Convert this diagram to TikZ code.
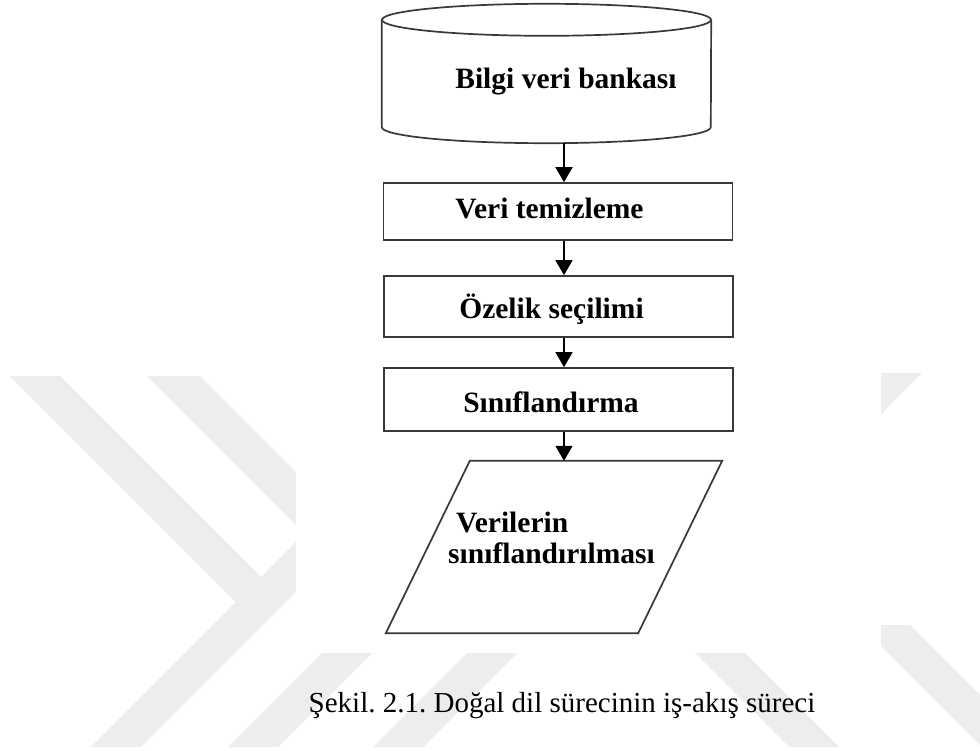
\documentclass[tikz,border=0pt]{standalone}
\usepackage{fontspec}
\setmainfont{Liberation Serif}
\usetikzlibrary{arrows.meta,calc}
\frenchspacing
\begin{document}
\begin{tikzpicture}[x=1pt,y=-1pt,
  line/.style={draw=black!78, line width=1.7pt},
  wm/.style={fill=black!7},
  boxshape/.style={line, rectangle, minimum width=349pt, inner sep=0pt},
  lbl/.style={font=\fontsize{29.5}{31}\selectfont\bfseries, inner sep=0pt},
  arr/.style={draw=black, line width=1.7pt, -{Triangle[width=17pt,length=15pt]}},
]
\useasboundingbox (0,0) rectangle (980,751);
\fill[white] (0,0) rectangle (980,751);
% watermark (background)
\begin{scope}
\clip (0,0) rectangle (980,747);
\fill[wm] (10,376) -- (60,376) -- (261,577) -- (236,602) -- cycle;
\fill[wm] (91,747) -- (141,747) -- (438,450) -- (388,450) -- cycle;
\fill[wm] (147,376) -- (200,376) -- (350,526) -- (297,526) -- cycle;
\fill[wm] (228,747) -- (278,747) -- (478,547) -- (428,547) -- cycle;
\fill[wm] (373,747) -- (423,747) -- (623,547) -- (573,547) -- cycle;
\fill[wm] (872,373) -- (922,373) -- (722,573) -- (672,573) -- cycle;
\fill[wm] (642,600) -- (692,600) -- (839,747) -- (789,747) -- cycle;
\fill[wm] (860,625) -- (910,625) -- (1032,747) -- (982,747) -- cycle;
\end{scope}
\fill[white] (296,0) rectangle (881,653);
% arrow axis
\coordinate (ax) at (564,0);
% cylinder
\node[rectangle, minimum width=329pt, minimum height=139pt, inner sep=0pt] (db) at (546.5,73.5) {};
\draw[line] ($(db.north west)+(0,16)$) -- ($(db.south west)+(0,-16)$)
  arc[start angle=180,end angle=360,x radius=164.5pt,y radius=16pt]
  -- ($(db.north east)+(0,16)$);
\draw[line] ($(db.north)+(0,16)$) ellipse[x radius=164.5pt, y radius=16pt];
\node[lbl, anchor=base] (dbt) at (566,89) {Bilgi veri bankası};
% boxes
\node[boxshape, minimum height=57pt] (b1) at (558,211.5) {};
\node[lbl, anchor=base] (t1) at (549.5,219) {Veri temizleme};
\node[boxshape, minimum height=61pt] (b2) at (558.5,306.5) {};
\node[lbl, anchor=base] (t2) at (551.5,319) {Özelik seçilimi};
\node[boxshape, minimum height=63pt] (b3) at (558.5,399.5) {};
\node[lbl, anchor=base] (t3) at (551,412) {Sınıflandırma};
% parallelogram
\node[rectangle, minimum width=336pt, minimum height=172pt, inner sep=0pt] (out) at (554,547) {};
\draw[line] ($(out.north west)+(84,0)$) -- (out.north east)
  -- ($(out.south east)+(-84,0)$) -- (out.south west) -- cycle;
\node[lbl, align=left] (outt) at (551.5,537.6) {\hspace*{8pt}Verilerin\\sınıflandırılması};
% arrows
\draw[arr] (db.south -| ax) -- (b1.north -| ax);
\draw[arr] (b1.south -| ax) -- (b2.north -| ax);
\draw[arr] (b2.south -| ax) -- (b3.north -| ax);
\draw[arr] (b3.south -| ax) -- (out.north -| ax);
% caption
\node[font=\fontsize{29}{32}\selectfont, inner sep=0pt, anchor=base] (cap) at (562,712) {Şekil. 2.1. Doğal dil sürecinin iş-akış süreci};
\end{tikzpicture}
\end{document}
